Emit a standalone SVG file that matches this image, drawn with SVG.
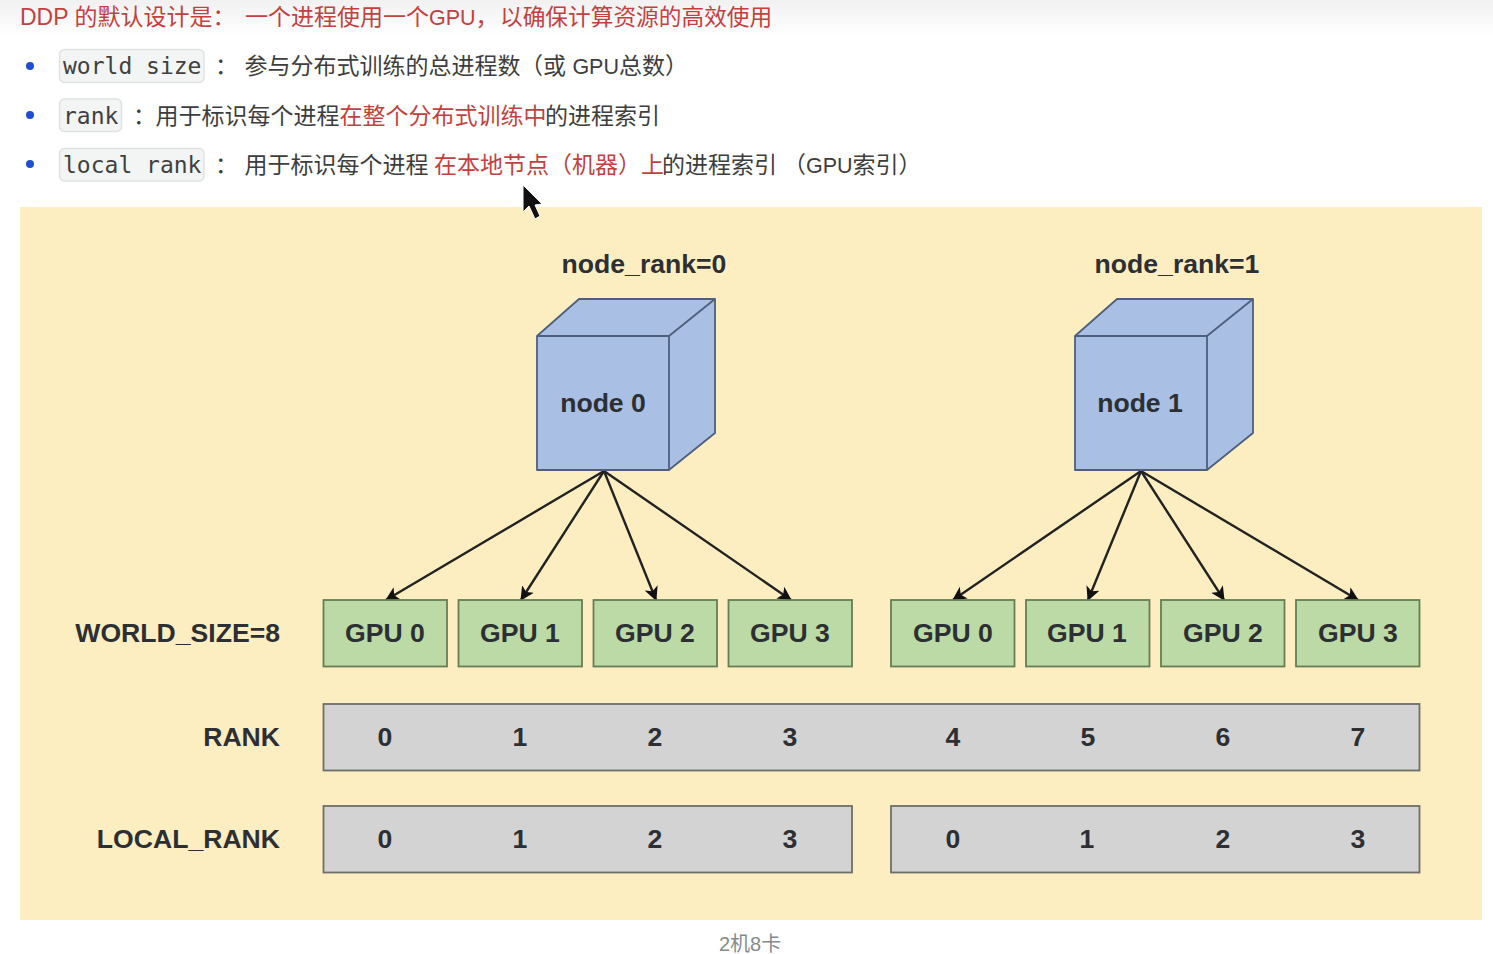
<svg xmlns="http://www.w3.org/2000/svg" width="1493" height="954" viewBox="0 0 1493 954">
<style>
text{font-family:"Liberation Sans","Noto Sans CJK SC",sans-serif}
.t{font-size:23px;fill:#3d3d3d}
.r{font-size:23px;fill:#c2413f}
.n{font-size:21.500px}
.c{font-family:"DejaVu Sans Mono","Liberation Mono",monospace;font-size:23px;fill:#404040}
.chip{fill:#f3f4f4;stroke:#dfe1e2;stroke-width:1.5}
.dot{fill:#1f4fd0}
.b{font-size:26.6px;font-weight:bold;fill:#2c2f33;text-anchor:middle}
.l{font-size:26.6px;font-weight:bold;fill:#2c2f33;text-anchor:end}
.gpu{fill:#bbdaa6;stroke:#667d57;stroke-width:1.800}
.bar{fill:#d3d3d3;stroke:#6e6e6a;stroke-width:1.800}
.cube{fill:#aabfe4;stroke:#4e5f7d;stroke-width:1.800;stroke-linejoin:round}
.a{stroke:#222;stroke-width:2.4;fill:none;marker-end:url(#arr)}
</style>
<defs>
<linearGradient id="top" x1="0" y1="0" x2="0" y2="1"><stop offset="0" stop-color="#f1f1f1"/><stop offset="1" stop-color="#fff"/></linearGradient>
<marker id="arr" markerUnits="userSpaceOnUse" markerWidth="18" markerHeight="18" refX="13" refY="8" orient="auto"><path d="M0 1 L14 8 L0 15 L3.500 8 Z" fill="#111"/></marker>
</defs>
<rect width="1493" height="954" fill="#fff"/>
<rect width="1493" height="36" fill="url(#top)"/>
<g id="intro">
<text class="r" x="20" y="25">DDP 的默认设计是：</text>
<text class="r" x="245" y="25">一个进程使用一个<tspan class="n">GPU</tspan>，</text>
<text class="r" x="500" y="25" style="font-size:22.700px">以确保计算资源的高效使用</text>
<circle class="dot" cx="30" cy="66" r="4"/>
<rect class="chip" x="59.500" y="49.500" width="144.500" height="33" rx="5"/>
<text class="c" x="63" y="74">world size</text>
<text class="t" x="215" y="74">：</text>
<text class="t" x="244.500" y="74">参与分布式训练的总进程数</text>
<text class="t" x="520" y="74">（或 <tspan class="n">GPU</tspan></text>
<text class="t" x="619" y="74">总数）</text>
<circle class="dot" cx="30" cy="115" r="4"/>
<rect class="chip" x="59.500" y="99" width="62" height="32.500" rx="5"/>
<text class="c" x="63" y="124">rank</text>
<text class="t" x="133" y="124">：</text>
<text class="t" x="155.500" y="124">用于标识每个进程</text>
<text class="r" x="339.500" y="124">在整个分布式训练中</text>
<text class="t" x="545" y="124">的进程索引</text>
<circle class="dot" cx="30" cy="164" r="4"/>
<rect class="chip" x="59.500" y="148.500" width="144.500" height="32.500" rx="5"/>
<text class="c" x="63" y="173">local rank</text>
<text class="t" x="215" y="173">：</text>
<text class="t" x="244.500" y="173">用于标识每个进程</text>
<text class="r" x="434" y="173">在本地节点（机器）上</text>
<text class="t" x="662" y="173">的进程索引</text>
<text class="t" x="783" y="173">（<tspan class="n">GPU</tspan>索引）</text>
</g>
<rect id="panel" x="20" y="207" width="1462" height="713" fill="#fdeec2"/>
<g id="connectors">
<path class="a" d="M604 471L386 600"/>
<path class="a" d="M604 471L521 600"/>
<path class="a" d="M604 471L656 600"/>
<path class="a" d="M604 471L791 600"/>
<path class="a" d="M1141 471L953 600"/>
<path class="a" d="M1141 471L1088 600"/>
<path class="a" d="M1141 471L1224 600"/>
<path class="a" d="M1141 471L1358 600"/>
</g>
<g id="labels">
<text class="b" x="644" y="273">node_rank=0</text>
<text class="b" x="1177" y="273">node_rank=1</text>
<text class="l" x="280" y="642">WORLD_SIZE=8</text>
<text class="l" x="280" y="746">RANK</text>
<text class="l" x="280" y="848">LOCAL_RANK</text>
</g>
<g id="node0">
<path class="cube" d="M537 336L579 299H715V433L669 470H537Z"/>
<path class="cube" d="M537 336H669V470M669 336L715 299" style="fill:none"/>
<text class="b" x="603" y="412">node 0</text>
</g>
<g id="node1">
<path class="cube" d="M1075 336L1117 299H1253V433L1207 470H1075Z"/>
<path class="cube" d="M1075 336H1207V470M1207 336L1253 299" style="fill:none"/>
<text class="b" x="1140" y="412">node 1</text>
</g>
<g id="gpu-n0-0"><rect class="gpu" x="323.500" y="600" width="123.500" height="66.500"/><text class="b" x="385" y="642">GPU 0</text></g>
<g id="gpu-n0-1"><rect class="gpu" x="458.500" y="600" width="123.500" height="66.500"/><text class="b" x="520" y="642">GPU 1</text></g>
<g id="gpu-n0-2"><rect class="gpu" x="593.500" y="600" width="123.500" height="66.500"/><text class="b" x="655" y="642">GPU 2</text></g>
<g id="gpu-n0-3"><rect class="gpu" x="728.500" y="600" width="123.500" height="66.500"/><text class="b" x="790" y="642">GPU 3</text></g>
<g id="gpu-n1-0"><rect class="gpu" x="891" y="600" width="123.500" height="66.500"/><text class="b" x="953" y="642">GPU 0</text></g>
<g id="gpu-n1-1"><rect class="gpu" x="1026" y="600" width="123.500" height="66.500"/><text class="b" x="1087" y="642">GPU 1</text></g>
<g id="gpu-n1-2"><rect class="gpu" x="1161" y="600" width="123.500" height="66.500"/><text class="b" x="1223" y="642">GPU 2</text></g>
<g id="gpu-n1-3"><rect class="gpu" x="1296" y="600" width="123.500" height="66.500"/><text class="b" x="1358" y="642">GPU 3</text></g>
<g id="rank-bar">
<rect class="bar" x="323.500" y="704" width="1096" height="66.500"/>
<text class="b" x="385" y="746">0</text><text class="b" x="520" y="746">1</text><text class="b" x="655" y="746">2</text><text class="b" x="790" y="746">3</text>
<text class="b" x="953" y="746">4</text><text class="b" x="1088" y="746">5</text><text class="b" x="1223" y="746">6</text><text class="b" x="1358" y="746">7</text>
</g>
<g id="local-rank-0">
<rect class="bar" x="323.500" y="806" width="528.500" height="66.500"/>
<text class="b" x="385" y="848">0</text><text class="b" x="520" y="848">1</text><text class="b" x="655" y="848">2</text><text class="b" x="790" y="848">3</text>
</g>
<g id="local-rank-1">
<rect class="bar" x="891" y="806" width="528.500" height="66.500"/>
<text class="b" x="953" y="848">0</text><text class="b" x="1087" y="848">1</text><text class="b" x="1223" y="848">2</text><text class="b" x="1358" y="848">3</text>
</g>
<text id="caption" x="719" y="951" font-size="20" fill="#858a8e">2机8卡</text>
<path id="cursor" d="M523 185V212L529 206L535 219L540 216L535 205L542 204Z" fill="#111" stroke="#fff" stroke-width="1"/>
</svg>
